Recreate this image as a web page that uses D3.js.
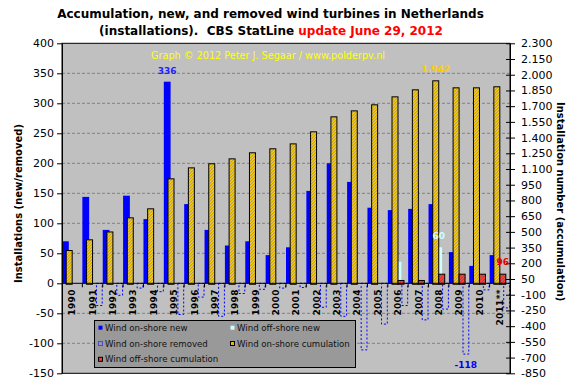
<!DOCTYPE html>
<html>
<head>
<meta charset="utf-8">
<script src="https://cdn.jsdelivr.net/npm/d3@7"></script>
<style>
  body { margin: 0; background: #fff; }
  svg { display: block; font-family: 'DejaVu Sans', Verdana, sans-serif; }
</style>
</head>
<body>
<div id="box-div"></div>
<script>
const years = ['1990', '1991', '1992', '1993', '1994', '1995', '1996', '1997', '1998', '1999', '2000',
    '2001', '2002', '2003', '2004', '2005', '2006', '2007', '2008', '2009', '2010', '2011**']
const onshoreNew = [70, 144, 89, 146, 107, 336, 132, 89, 63, 70, 47, 60, 154, 200, 169, 126, 122, 124, 132, 52, 29, 47]
const offshoreNew = [0, 0, 0, 0, 0, 0, 0, 0, 0, 0, 0, 0, 0, 0, 0, 0, 36, 0, 60, 0, 0, 0]
const onshoreRemoved = [0, -37, -20, -8, -14, -52, -23, -55, -17, -10, -8, -7, -40, -55, -111, -68, -37, -61, -43, -118, -11, -41]
const onshoreCum = [322, 424, 499, 634, 720, 1006, 1111, 1150, 1197, 1255, 1293, 1340, 1455, 1598, 1655, 1713, 1789, 1856, 1942, 1875, 1875, 1885]
const offshoreCum = [0, 0, 0, 0, 0, 0, 0, 0, 0, 0, 0, 0, 0, 0, 0, 0, 36, 36, 96, 96, 96, 96]
const leftTicks = d3.range(-150, 401, 50)
const rightTicks = d3.range(-850, 2301, 150)

const dms = {
    width: 571,
    height: 387,
    margin: { top: 43.3, right: 61, bottom: 13.7, left: 62 }
}
dms.contentWidth = dms.width - dms.margin.left - dms.margin.right
dms.contentHeight = dms.height - dms.margin.top - dms.margin.bottom

const rows = years.map((y, i) => ({
    year: y,
    onNew: onshoreNew[i],
    offNew: offshoreNew[i],
    removed: onshoreRemoved[i],
    onCum: onshoreCum[i],
    offCum: offshoreCum[i]
}))

const nl = d3.formatLocale({ decimal: ',', thousands: '.', grouping: [3], currency: ['', ''], minus: '-' })
const fmt = nl.format(',d')

const box = d3.select('#box-div').append('svg')
    .attr('width', dms.width)
    .attr('height', dms.height)

const defs = box.append('defs')
function hatch(id, base) {
    const p = defs.append('pattern')
        .attr('id', id)
        .attr('patternUnits', 'userSpaceOnUse')
        .attr('width', 3).attr('height', 3)
    p.append('rect').attr('width', 3).attr('height', 3).attr('fill', base)
    p.append('path')
        .attr('d', 'M-1,1 l2,-2 M0,3 l3,-3 M2,4 l2,-2')
        .attr('stroke', '#8c8c8c').attr('stroke-width', 0.9)
}
hatch('hatch-yellow', '#ffcc00')
hatch('hatch-red', '#ff2020')

const content = box.append('g')
    .attr('transform', `translate(${dms.margin.left},${dms.margin.top})`)

const x = d3.scaleBand().domain(years).range([0, dms.contentWidth])
const xPrim = d3.scaleBand().domain(['new', 'off', 'rem']).range([0, x.bandwidth()])
const xSec = d3.scaleBand().domain(['on', 'off']).range([0, x.bandwidth()]).paddingOuter(0.7)
const yL = d3.scaleLinear().domain([-150, 400]).range([dms.contentHeight, 0])
const yR = d3.scaleLinear().domain([-850, 2300]).range([dms.contentHeight, 0])

content.append('rect')
    .attr('width', dms.contentWidth)
    .attr('height', dms.contentHeight)
    .attr('fill', '#c0c0c0')

// dashed gridlines
content.append('g').selectAll('line')
    .data(leftTicks.filter(d => d !== 0 && d !== 400 && d !== -150))
    .join('line')
    .attr('x1', 0).attr('x2', dms.contentWidth)
    .attr('y1', d => yL(d)).attr('y2', d => yL(d))
    .attr('stroke', '#808080')
    .attr('stroke-dasharray', '3,2')

// watermark
box.append('text')
    .attr('x', 151).attr('y', 59.3)
    .attr('fill', '#ffff00')
    .style('font-size', '9.7px')
    .text('Graph © 2012 Peter J. Segaar / www.polderpv.nl')

const bars = content.append('g')

bars.selectAll('rect.on-new')
    .data(rows)
    .join('rect')
    .attr('class', 'on-new')
    .attr('x', d => x(d.year) + xPrim('new'))
    .attr('width', xPrim.bandwidth())
    .attr('y', d => yL(d.onNew))
    .attr('height', d => yL(0) - yL(d.onNew))
    .attr('fill', '#0000ff')

bars.selectAll('rect.off-new')
    .data(rows.filter(d => d.offNew > 0))
    .join('rect')
    .attr('class', 'off-new')
    .attr('x', d => x(d.year) + xPrim('off'))
    .attr('width', xPrim.bandwidth())
    .attr('y', d => yL(d.offNew))
    .attr('height', d => yL(0) - yL(d.offNew))
    .attr('fill', '#ccffff')

bars.selectAll('rect.removed')
    .data(rows.filter(d => d.removed < 0))
    .join('rect')
    .attr('class', 'removed')
    .attr('x', d => x(d.year) + xPrim('rem') + 0.5)
    .attr('width', xPrim.bandwidth() - 1)
    .attr('y', yL(0))
    .attr('height', d => yL(d.removed) - yL(0))
    .attr('fill', 'none')
    .attr('stroke', '#0000ff')
    .attr('stroke-dasharray', '2,2')

bars.selectAll('rect.on-cum')
    .data(rows)
    .join('rect')
    .attr('class', 'on-cum')
    .attr('x', d => x(d.year) + xSec('on'))
    .attr('width', xSec.bandwidth())
    .attr('y', d => yR(d.onCum))
    .attr('height', d => yR(0) - yR(d.onCum))
    .attr('fill', 'url(#hatch-yellow)')
    .attr('stroke', '#000')

bars.selectAll('rect.off-cum')
    .data(rows.filter(d => d.offCum > 0))
    .join('rect')
    .attr('class', 'off-cum')
    .attr('x', d => x(d.year) + xSec('off'))
    .attr('width', xSec.bandwidth())
    .attr('y', d => yR(d.offCum))
    .attr('height', d => yR(0) - yR(d.offCum))
    .attr('fill', 'url(#hatch-red)')
    .attr('stroke', '#000')

// zero line + category ticks
content.append('line')
    .attr('x1', 0).attr('x2', dms.contentWidth)
    .attr('y1', yL(0)).attr('y2', yL(0))
    .attr('stroke', '#000')

content.append('g').selectAll('line')
    .data(years.slice(1))
    .join('line')
    .attr('x1', d => x(d)).attr('x2', d => x(d))
    .attr('y1', yL(0)).attr('y2', yL(0) + 4)
    .attr('stroke', '#000')

content.append('g').selectAll('text')
    .data(years)
    .join('text')
    .attr('transform', d => `translate(${x(d) + x.bandwidth() / 2},${yL(0) + 6}) rotate(-90)`)
    .attr('text-anchor', 'end')
    .attr('dy', '0.35em')
    .style('font-size', '9px')
    .style('font-weight', 'bold')
    .style('letter-spacing', '0.3px')
    .text(d => d)

content.append('rect')
    .attr('width', dms.contentWidth)
    .attr('height', dms.contentHeight)
    .attr('fill', 'none')
    .attr('stroke', '#000')

// axes
const leftAxis = content.append('g')
    .call(d3.axisLeft(yL).tickValues(leftTicks).tickSizeInner(5).tickSizeOuter(0).tickFormat(fmt))
const rightAxis = content.append('g')
    .attr('transform', `translate(${dms.contentWidth},0)`)
    .call(d3.axisRight(yR).tickValues(rightTicks).tickSizeInner(5).tickSizeOuter(0).tickFormat(fmt))
rightAxis.selectAll('.tick line').attr('x1', -4)
rightAxis.selectAll('.tick text').attr('x', 11)
for (const a of [leftAxis, rightAxis]) {
    a.selectAll('text').style('font-size', '11px').attr('fill', '#000').style('font-family', 'DejaVu Sans')
    a.selectAll('line, path').attr('stroke', '#000')
}

// value labels
const labels = content.append('g')
    .style('font-size', '9px')
    .style('font-weight', 'bold')
    .attr('text-anchor', 'middle')
const r1995 = rows[5], r2008 = rows[18], r2009 = rows[19], r2011 = rows[21]
labels.append('text')
    .attr('x', x(r1995.year) + xPrim('new') + xPrim.bandwidth() / 2)
    .attr('y', yL(r1995.onNew) - 8)
    .attr('fill', '#2222ff')
    .text(r1995.onNew)
labels.append('text')
    .attr('x', x(r2008.year) + xSec('on') + xSec.bandwidth() / 2)
    .attr('y', yR(r2008.onCum) - 8.5)
    .attr('fill', '#ffcc00')
    .text(fmt(r2008.onCum))
labels.append('text')
    .attr('x', x(r2008.year) + xPrim('off') + xPrim.bandwidth() / 2)
    .attr('y', yL(r2008.offNew) - 8)
    .attr('fill', '#ccffff')
    .text(r2008.offNew)
labels.append('text')
    .attr('x', x(r2011.year) + xSec('off') + xSec.bandwidth() / 2)
    .attr('y', yR(r2011.offCum) - 9)
    .attr('fill', '#e00000')
    .text(r2011.offCum)
labels.append('text')
    .attr('x', x(r2009.year) + xPrim('rem') + xPrim.bandwidth() / 2)
    .attr('y', yL(r2009.removed) + 14)
    .attr('fill', '#0000ff')
    .text(fmt(r2009.removed))

// axis titles
box.append('text')
    .attr('transform', 'translate(18,203.5) rotate(-90)')
    .attr('text-anchor', 'middle')
    .attr('dy', '0.35em')
    .style('font-size', '10px')
    .style('font-weight', 'bold')
    .text('Installations (new/removed)')
box.append('text')
    .attr('transform', 'translate(560,201.7) rotate(90)')
    .attr('text-anchor', 'middle')
    .attr('dy', '0.35em')
    .style('font-size', '10px')
    .style('font-weight', 'bold')
    .text('Installation number (accumulation)')

// chart title
const title = box.append('g')
    .attr('text-anchor', 'middle')
    .style('font-size', '12px')
    .style('font-weight', 'bold')
title.append('text')
    .attr('x', 270.5).attr('y', 18.3)
    .text('Accumulation, new, and removed wind turbines in Netherlands')
const t2 = title.append('text')
    .attr('x', 271).attr('y', 35)
t2.append('tspan').text('(installations).  CBS StatLine ').style('white-space', 'pre')
t2.append('tspan').attr('fill', '#ff0000').text('update June 29, 2012')

// legend
const legend = box.append('g')
legend.append('rect')
    .attr('x', 94.5).attr('y', 320.5)
    .attr('width', 261).attr('height', 47)
    .attr('fill', '#999999')
    .attr('stroke', '#000')
const legendItems = [
    { label: 'Wind on-shore new', col: 0, row: 0, fill: '#0000ff', stroke: 'none' },
    { label: 'Wind off-shore new', col: 1, row: 0, fill: '#ccffff', stroke: 'none' },
    { label: 'Wind on-shore removed', col: 0, row: 1, fill: 'none', stroke: '#0000ff', dash: '1,1' },
    { label: 'Wind on-shore cumulation', col: 1, row: 1, fill: 'url(#hatch-yellow)', stroke: '#000' },
    { label: 'Wind off-shore cumulation', col: 0, row: 2, fill: 'url(#hatch-red)', stroke: '#000' }
]
const li = legend.selectAll('g.item')
    .data(legendItems)
    .join('g')
    .attr('class', 'item')
    .attr('transform', d => `translate(${d.col ? 230 : 98},${327.7 + d.row * 15.8})`)
li.append('rect')
    .attr('x', 0.5).attr('y', -2)
    .attr('width', 4).attr('height', 4)
    .attr('fill', d => d.fill)
    .attr('stroke', d => d.stroke)
    .attr('stroke-dasharray', d => d.dash || null)
li.append('text')
    .attr('x', 7)
    .attr('dy', '0.35em')
    .style('font-size', '8.6px')
    .attr('fill', '#111')
    .text(d => d.label)
</script>
</body>
</html>
